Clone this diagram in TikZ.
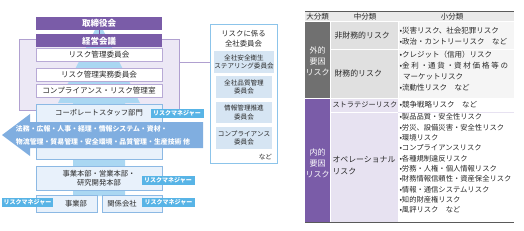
\documentclass[tikz,border=0pt]{standalone}
\usepackage{fontspec}
\setmainfont{Noto Sans CJK JP}
\definecolor{cpurple}{RGB}{122,92,168}
\definecolor{cbg}{RGB}{236,232,245}
\definecolor{cbgborder}{RGB}{176,160,208}
\definecolor{cwborder}{RGB}{184,170,214}
\definecolor{cuparrow}{RGB}{170,215,242}
\definecolor{cbfill}{RGB}{232,241,251}
\definecolor{cbborder}{RGB}{140,185,228}
\definecolor{cbigarrow}{RGB}{128,174,224}
\definecolor{crm}{RGB}{88,180,230}
\definecolor{ccborder}{RGB}{140,196,234}
\definecolor{cinner}{RGB}{214,229,243}
\definecolor{cdark}{RGB}{90,90,90}
\definecolor{cgraydark}{RGB}{112,112,112}
\definecolor{cheader}{RGB}{233,233,233}
\definecolor{cextmid}{RGB}{224,224,224}
\definecolor{cextsmall}{RGB}{245,245,245}
\definecolor{cintmid}{RGB}{231,226,241}
\definecolor{ctext}{RGB}{40,40,40}
\newcommand\fsz[2]{\fontsize{#1}{#2}\selectfont}
\begin{document}
\begin{tikzpicture}[x=1pt,y=-1pt,
  every node/.style={inner sep=0pt, outer sep=0pt, text=ctext},
  purplebox/.style={fill=cpurple, text=white, font=\fsz{8.5}{10}\bfseries, minimum width=126pt, minimum height=13pt},
  whitebox/.style={draw=cwborder, fill=white, line width=0.8pt, font=\fsz{7.6}{9}, minimum width=126pt, minimum height=13pt},
  bluebox/.style={draw=cbborder, fill=cbfill, line width=0.8pt, font=\fsz{7.3}{9}, align=center},
  rmlabel/.style={fill=crm, text=white, font=\fsz{6}{7}\bfseries, minimum width=53pt, minimum height=9pt},
  innerbox/.style={fill=cinner, font=\fsz{6.6}{8.6}, minimum width=56pt, align=center},
  hdr/.style={font=\fsz{7.5}{9}},
  bigcat/.style={font=\fsz{8}{11}, text=white, align=center},
  midcat/.style={font=\fsz{7.9}{12}, anchor=west, align=left},
  smallcat/.style={font=\fsz{7.3}{10.35}, anchor=west, align=left}
]
\useasboundingbox (0,0) rectangle (524,230);

% ---------- left organisation chart ----------
\node[draw=cbgborder, fill=cbg, line width=0.8pt, minimum width=160pt, minimum height=71pt] (bg) at (99,74.5) {};
\fill[cuparrow] (73,196) -- (73,103) -- (58,103) -- (99,22) -- (140,103) -- (125,103) -- (125,196) -- cycle;

\node[purplebox] (torishimari) at (99,23.5) {取締役会};
\node[purplebox] (keiei) at (99,40.9) {経営会議};
\draw[cpurple, line width=0.8pt] (torishimari.south) -- (keiei.north);
\node[whitebox] (riskcomm) at (99,54.5) {リスク管理委員会};
\node[whitebox] (jitsumu) at (99,74.5) {リスク管理実務委員会};
\node[whitebox] (compl) at (99,90.5) {コンプライアンス・リスク管理室};

\node[bluebox, minimum width=126pt, minimum height=55pt] (corp) at (99,131.5) {};
\node[font=\fsz{7.3}{9}] (corptext) at (99,112.5) {コーポレートスタッフ部門};
\node[rmlabel] (rm1) at (177,113.5) {リスクマネジャー};

\fill[cbigarrow] (203,122) -- (30,122) -- (30,114) -- (2,135) -- (30,156) -- (30,148) -- (203,148) -- cycle;
\node[anchor=west, align=left, text=white, font=\fsz{6.9}{13}\bfseries] (arrowtext) at (16,135)
  {法務・広報・人事・経理・情報システム・資材・\\物流管理・貿易管理・安全環境・品質管理・生産技術 他};

\node[bluebox, minimum width=126pt, minimum height=24pt] (honbu) at (99,178) {事業本部・営業本部・\\研究開発本部};
\node[rmlabel] (rm2) at (168,180.5) {リスクマネジャー};

\node[bluebox, minimum width=61pt, minimum height=17pt] (jigyobu) at (66.5,203.5) {};
\node[font=\fsz{7.3}{9}] (jigyobutext) at (76,203.5) {事業部};
\node[bluebox, minimum width=60pt, minimum height=17pt] (kankei) at (132,203.5) {};
\node[font=\fsz{7.3}{9}] (kankeitext) at (122,203.5) {関係会社};
\node[rmlabel, minimum width=51pt] (rm3) at (27.5,202.5) {リスクマネジャー};
\node[rmlabel] (rm4) at (168.5,202.5) {リスクマネジャー};

% ---------- committees ----------
\node[draw=ccborder, fill=white, line width=0.9pt, minimum width=67pt, minimum height=139pt] (cbox) at (243.5,93.5) {};
\node[font=\fsz{7.4}{10}, align=center] (ctitle) at (243.5,38.5) {リスクに係る\\全社委員会};
\node[innerbox, minimum height=22pt] (c1) at (244,62) {全社安全衛生\\ステアリング委員会};
\node[innerbox, minimum height=22pt] (c2) at (244,87) {全社品質管理\\委員会};
\node[innerbox, minimum height=21pt] (c3) at (244,112.5) {情報管理推進\\委員会};
\node[innerbox, minimum height=22pt] (c4) at (244,138) {コンプライアンス\\委員会};
\node[font=\fsz{6.6}{8}, anchor=east] (nado) at (272,157) {など};
\draw[cbgborder, line width=0.8pt] (c1.west -| bg.east) -- (c1.west -| cbox.west);

% ---------- table ----------
\fill[cheader] (305,12) rectangle (514,22);
\fill[cgraydark] (305,22) rectangle (330,98);
\fill[cextmid] (330,22) rectangle (398,98);
\fill[cextsmall] (398,22) rectangle (514,98);
\fill[cpurple] (305,98) rectangle (330,222);
\fill[cintmid] (330,98) rectangle (398,222);
\draw[white, line width=1pt] (305,22) -- (514,22);
\draw[white, line width=1pt] (330,22) -- (330,222);
\draw[white, line width=1pt] (398,22) -- (398,222);
\draw[white, line width=1pt] (330,49.5) -- (514,49.5);
\draw[white, line width=1pt] (305,98.5) -- (514,98.5);
\draw[white, line width=1pt] (330,112) -- (398,112);
\draw[cintmid, line width=0.8pt] (398,112) -- (514,112);
\draw[cdark, line width=0.9pt] (305,11.5) -- (514,11.5);
\draw[cdark, line width=0.9pt] (305,222.5) -- (514,222.5);

\node[hdr] (h1) at (317.5,17) {大分類};
\node[hdr] (h2) at (365,17) {中分類};
\node[hdr] (h3) at (452,17) {小分類};

\node[bigcat] (ext) at (317.5,61) {外的\\要因\\リスク};
\node[bigcat] (int) at (317.5,163) {内的\\要因\\リスク};

\node[midcat] (m1) at (334.5,36) {非財務的リスク};
\node[midcat] (m2) at (334.5,73) {財務的リスク};
\node[midcat, font=\fsz{7.2}{9}] (m3) at (332.5,105) {ストラテジーリスク};
\node[midcat] (m4) at (332.5,165.5) {オペレーショナル\\リスク};

\node[smallcat, font=\fsz{7.5}{11.2}] (s1) at (399.5,36.5) {•災害リスク、社会犯罪リスク\\•政治・カントリーリスク　など};
\node[smallcat, font=\fsz{7.5}{11}] (s2) at (399.5,71.5) {•クレジット（信用）リスク\\•\makebox[106pt][s]{金\hfill 利\hfill ・通\hfill 貨\hfill ・資\hfill 材\hfill 価\hfill 格\hfill 等\hfill の}\\\hspace*{3.6pt}マーケットリスク\\•流動性リスク　など};
\node[smallcat, font=\fsz{7.5}{9}] (s3) at (399.5,105) {•競争戦略リスク　など};
\node[smallcat] (s4) at (399.5,163.5) {•製品品質・安全性リスク\\•労災、設備災害・安全性リスク\\•環境リスク\\•コンプライアンスリスク\\•各種規制違反リスク\\•労務・人権・個人情報リスク\\•財務情報信頼性・資産保全リスク\\•情報・通信システムリスク\\•知的財産権リスク\\•風評リスク　など};
\end{tikzpicture}
\end{document}
